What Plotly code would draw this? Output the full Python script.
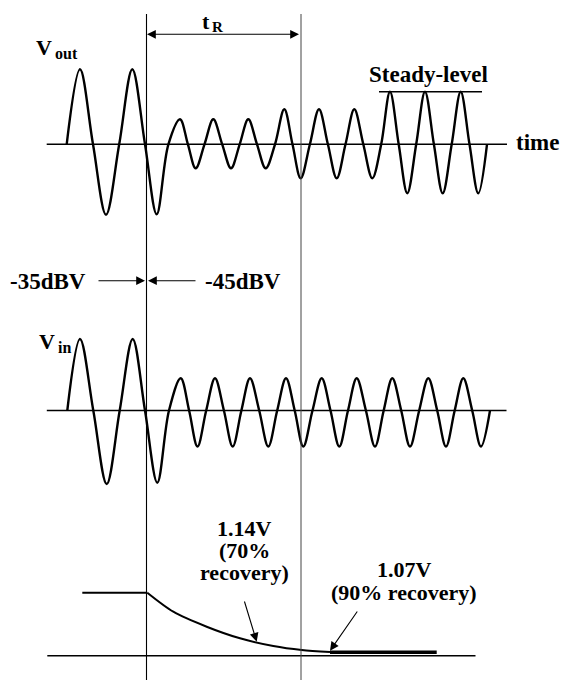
import plotly.graph_objects as go

# ---------------- data (time and amplitudes in arbitrary units) ----------------
# V_out : extrema and zero crossings
vout_t = [66.7, 80, 93, 106, 119.2, 132.3, 145, 156.7, 168.4,
          180, 187.9, 195.7, 204.5, 213.3, 222.2, 231, 239.7, 248.3, 257, 265.7, 275,
          284.3, 292.5, 300.7, 309.9, 319, 327.9, 336.7, 345.5, 354.3, 363.3, 372.3, 381.2,
          390, 398.7, 407.3, 416.2, 425, 433.9, 442.7, 451.7, 460.7, 469.5, 478.3, 487]
vout_v = [0, 75, 0, -70.5, 0, 75, 0, -70, 0,
          25, 0, -24, 0, 25, 0, -24, 0, 25, 0, -24, 0,
          35, 0, -34, 0, 35, 0, -34, 0, 35, 0, -34, 0,
          52.5, 0, -49, 0, 52.5, 0, -49, 0, 52.5, 0, -49, 0]

# V_in : extrema and zero crossings
vin_t = [67.3, 80, 93.3, 106.7, 119.7, 132.7, 145, 157.3, 169,
         180.7, 189.1, 197.5, 206.2, 215, 223.9, 232.7, 241.4, 250, 259.2, 268.3, 277.2,
         286, 294.7, 303.3, 312.5, 321.7, 330.5, 339.3, 348, 356.7, 365.9, 375, 383.7,
         392.3, 401.2, 410, 419.2, 428.3, 437.2, 446, 454.7, 463.3, 472.2, 481, 490]
vin_v = [0, 71.5, 0, -73.5, 0, 71.5, 0, -72.2, 0,
         32.2, 0, -36, 0, 32.2, 0, -36, 0, 32.2, 0, -36, 0,
         32.2, 0, -36, 0, 32.2, 0, -36, 0, 32.2, 0, -36, 0,
         32.2, 0, -36, 0, 32.2, 0, -36, 0, 32.2, 0, -36, 0]

# DC recovery level
pre_t = [82.3, 147.3]
pre_v = [63, 63]
decay_t = [147.3, 173.3, 206.7, 240, 273.3, 301.7, 330]
decay_v = [63, 44, 29, 17.4, 9.7, 5.7, 3.6]
settled_t = [330, 436.7]
settled_v = [3.4, 3.4]

steady_level = 52.5
switch_time = 146.5
recovery_end = 301.0

W, H = 561, 680
FONT = "Liberation Serif, Times New Roman, serif"

# baselines (pixel rows) of the three panels
base_top, base_mid, base_bot = 144.3, 410.5, 655.7


def fy(row):
    return 1 - row / H


fig = go.Figure()

wave = dict(color="black", width=2.4, shape="spline", smoothing=1.0)
fig.add_trace(go.Scatter(x=vout_t, y=vout_v, mode="lines", line=wave, yaxis="y"))
fig.add_trace(go.Scatter(x=vin_t, y=vin_v, mode="lines", line=wave, yaxis="y2"))
fig.add_trace(go.Scatter(x=pre_t, y=pre_v, mode="lines",
                         line=dict(color="black", width=2), yaxis="y3"))
fig.add_trace(go.Scatter(x=decay_t, y=decay_v, mode="lines",
                         line=dict(color="black", width=2, shape="spline", smoothing=0.8),
                         yaxis="y3"))
fig.add_trace(go.Scatter(x=settled_t, y=settled_v, mode="lines",
                         line=dict(color="black", width=3.5), yaxis="y3"))

shapes = []
# zero axes
shapes.append(dict(type="line", xref="x", yref="y", x0=46.7, x1=507, y0=0, y1=0,
                   line=dict(color="black", width=1.5)))
shapes.append(dict(type="line", xref="x", yref="y2", x0=46.8, x1=506.5, y0=0, y1=0,
                   line=dict(color="black", width=1.5)))
shapes.append(dict(type="line", xref="x", yref="y3", x0=47.3, x1=475.5, y0=0, y1=0,
                   line=dict(color="black", width=1.5)))
# steady level
shapes.append(dict(type="line", xref="x", yref="y", x0=379, x1=482,
                   y0=steady_level, y1=steady_level, line=dict(color="black", width=1.6)))
# vertical markers
shapes.append(dict(type="line", xref="x", yref="y domain", x0=switch_time, x1=switch_time,
                   y0=0, y1=fy(14), line=dict(color="black", width=1.1)))
shapes.append(dict(type="line", xref="x", yref="y domain", x0=recovery_end, x1=recovery_end,
                   y0=0, y1=fy(14), line=dict(color="#444", width=1)))

ann = []


def text(x, row, s, size=22, bold=True, anchor="center"):
    if bold:
        s = "<b>" + s + "</b>"
    ann.append(dict(x=x, y=fy(row), xref="x", yref="y domain", text=s, showarrow=False,
                    xanchor=anchor, yanchor="middle",
                    font=dict(family=FONT, size=size, color="black")))


def arrow(x_tip, row_tip, x_tail, row_tail, side="end", width=1.1, size=1.6):
    ann.append(dict(x=x_tip, y=fy(row_tip), ax=x_tail, ay=fy(row_tail),
                    xref="x", yref="y domain", axref="x", ayref="y domain",
                    text="", showarrow=True, arrowhead=2, arrowsize=size,
                    arrowwidth=width, arrowcolor="black", arrowside=side,
                    standoff=0, startstandoff=0))


# labels
text(44, 48, "V", 22)
text(52.5, 54, "out", 16, anchor="left")
text(47, 341, "V", 22)
text(55.5, 347, "in", 16, anchor="left")
text(206, 22, "t", 22)
text(209.5, 27, "R", 15, anchor="left")
text(428, 74, "Steady-level", 23)
text(537, 142, "time", 23)
text(48, 281, "-35dBV", 23)
text(243, 281, "-45dBV", 23)

# recovery annotations
text(244, 528, "1.14V", 22)
text(244, 550, "(70%", 22)
text(244, 572, "recovery)", 22)
text(404, 569, "1.07V", 22)
text(404, 592, "(90% recovery)", 22)

# arrows
arrow(switch_time + 0.5, 34.3, recovery_end - 0.5, 34.3, side="end+start")
arrow(145, 280.7, 97, 280.7)
arrow(148, 280.7, 197, 280.7)
arrow(256.7, 641.7, 244, 600)
arrow(330, 650.7, 358.3, 610)

fig.update_layout(
    width=W, height=H, autosize=False,
    margin=dict(l=0, r=0, t=0, b=0),
    paper_bgcolor="white", plot_bgcolor="white",
    showlegend=False,
    shapes=shapes, annotations=ann,
    xaxis=dict(range=[0, W], visible=False, fixedrange=True),
    yaxis=dict(range=[base_top - H, base_top], visible=False, fixedrange=True),
    yaxis2=dict(range=[base_mid - H, base_mid], visible=False, fixedrange=True,
                overlaying="y"),
    yaxis3=dict(range=[base_bot - H, base_bot], visible=False, fixedrange=True,
                overlaying="y"),
)

fig.write_html("out.html", config={"displayModeBar": False},
               post_script="document.body.style.margin='0';document.body.style.overflow='hidden';")
